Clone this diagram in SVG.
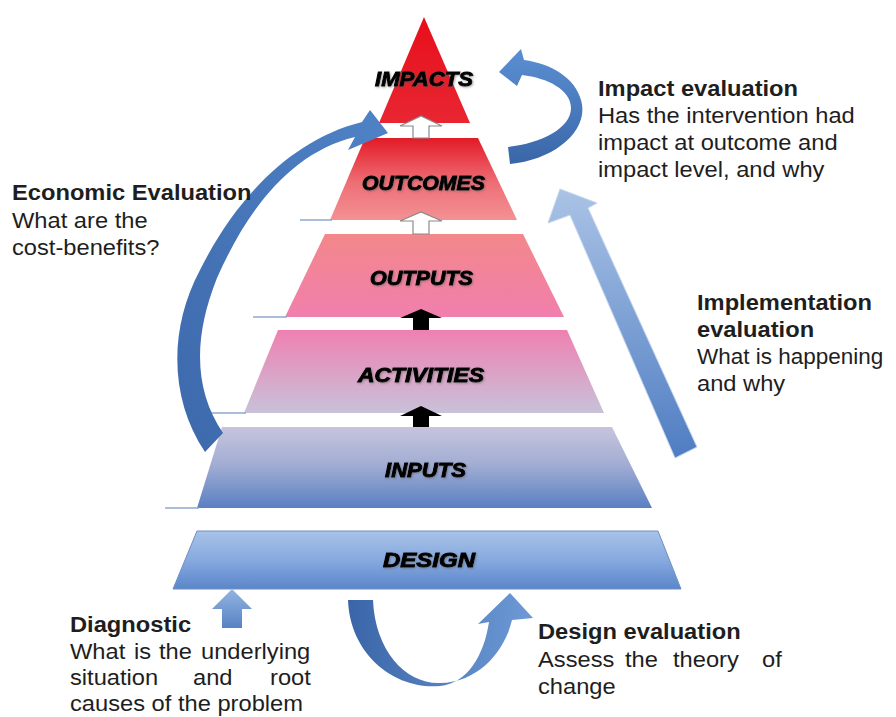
<svg xmlns="http://www.w3.org/2000/svg" width="896" height="717" viewBox="0 0 896 717">
<defs>
<style>
.lbl{font-family:"Liberation Sans",Arial,sans-serif;font-weight:bold;font-style:italic;font-size:19.5px;fill:#000;stroke:#000;stroke-width:0.9;filter:url(#sh)}
.t{font-family:"Liberation Sans",Arial,sans-serif;font-size:22.5px;fill:#1e1e1e}
.tb{font-family:"Liberation Sans",Arial,sans-serif;font-size:22.5px;font-weight:bold;fill:#1e1e1e}
.tick{stroke:#8ea7cf;stroke-width:1.5}
.wa{fill:#fff;stroke:#8a8a8a;stroke-width:1.2}
.ba{fill:#000}
</style>
<filter id="sh" x="-10%" y="-30%" width="120%" height="160%"><feDropShadow dx="1" dy="1" stdDeviation="1" flood-color="#555" flood-opacity="0.5"/></filter>
<linearGradient id="gImp" x1="0" y1="0" x2="0" y2="1"><stop offset="0" stop-color="#e70f1b"/><stop offset="1" stop-color="#e82632"/></linearGradient>
<linearGradient id="gOutc" x1="0" y1="0" x2="0" y2="1"><stop offset="0" stop-color="#e31a27"/><stop offset="0.55" stop-color="#ee6f76"/><stop offset="1" stop-color="#f39194"/></linearGradient>
<linearGradient id="gOutp" x1="0" y1="0" x2="0" y2="1"><stop offset="0" stop-color="#f3878a"/><stop offset="1" stop-color="#f17fae"/></linearGradient>
<linearGradient id="gAct" x1="0" y1="0" x2="0" y2="1"><stop offset="0" stop-color="#ef80b0"/><stop offset="1" stop-color="#c8c2da"/></linearGradient>
<linearGradient id="gInp" x1="0" y1="0" x2="0" y2="1"><stop offset="0" stop-color="#c7c4dc"/><stop offset="0.45" stop-color="#a3aed4"/><stop offset="1" stop-color="#5a80c2"/></linearGradient>
<linearGradient id="gDes" x1="0" y1="0" x2="0" y2="1"><stop offset="0" stop-color="#a9c3e9"/><stop offset="0.5" stop-color="#86a9df"/><stop offset="1" stop-color="#5b86ca"/></linearGradient>
<linearGradient id="gEco" x1="0" y1="1" x2="1" y2="0"><stop offset="0" stop-color="#3d69ab"/><stop offset="1" stop-color="#4f82c6"/></linearGradient>
<linearGradient id="gImpA" x1="0" y1="0" x2="0" y2="1"><stop offset="0" stop-color="#5b8fd2"/><stop offset="1" stop-color="#3a66a8"/></linearGradient>
<linearGradient id="gImpl" x1="0" y1="0" x2="0" y2="1"><stop offset="0" stop-color="#aac3e6"/><stop offset="1" stop-color="#4f7dc2"/></linearGradient>
<linearGradient id="gU" x1="0" y1="0" x2="1" y2="0"><stop offset="0" stop-color="#3a65a8"/><stop offset="1" stop-color="#6e9bd7"/></linearGradient>
<linearGradient id="gDiag" x1="0" y1="0" x2="0" y2="1"><stop offset="0" stop-color="#95b5e1"/><stop offset="1" stop-color="#5682c4"/></linearGradient>
</defs>
<rect width="896" height="717" fill="#fff"/>

<g id="layer-impacts">
<polygon points="424,17 470,123 379,123" fill="url(#gImp)"/>
<text class="lbl" x="375" y="86" textLength="98" lengthAdjust="spacingAndGlyphs">IMPACTS</text>
</g>
<g id="layer-outcomes">
<polygon points="365,138 478,138 517,220 330,220" fill="url(#gOutc)"/>
<line class="tick" x1="300" y1="220" x2="332" y2="220"/>
<text class="lbl" x="362" y="190" textLength="123" lengthAdjust="spacingAndGlyphs">OUTCOMES</text>
</g>
<g id="layer-outputs">
<polygon points="325,234 523,234 564,317 285,317" fill="url(#gOutp)"/>
<line class="tick" x1="253" y1="317" x2="287" y2="317"/>
<text class="lbl" x="370" y="285" textLength="103" lengthAdjust="spacingAndGlyphs">OUTPUTS</text>
</g>
<g id="layer-activities">
<polygon points="278,330 567,330 604,413 244,413" fill="url(#gAct)"/>
<line class="tick" x1="210" y1="413" x2="246" y2="413"/>
<text class="lbl" x="358" y="382" textLength="126" lengthAdjust="spacingAndGlyphs">ACTIVITIES</text>
</g>
<g id="layer-inputs">
<polygon points="222,427 612,427 652,508 197,508" fill="url(#gInp)"/>
<line class="tick" x1="165" y1="508" x2="199" y2="508"/>
<text class="lbl" x="385" y="477" textLength="81" lengthAdjust="spacingAndGlyphs">INPUTS</text>
</g>
<g id="layer-design">
<polygon points="197,531 658,531 681,589 173,589" fill="url(#gDes)" stroke="#6e90c6" stroke-width="1"/>
<text class="lbl" x="383" y="567" textLength="92" lengthAdjust="spacingAndGlyphs">DESIGN</text>
</g>

<g id="connectors">
<polygon class="wa" points="413,138 413,126 400,126 421,116 442,126 429,126 429,138"/>
<polygon class="wa" points="413,234 413,221 400,221 421,212 442,221 429,221 429,234"/>
<polygon class="ba" points="413,330 413,318 400,318 421,309 442,318 429,318 429,330"/>
<polygon class="ba" points="413,427 413,416 400,416 421,406 442,416 429,416 429,427"/>
<path id="arrow-economic" d="M 205 452 C 170 400 168 330 200 270 C 235 200 290 140 362 122 L 370 110 L 388 133 L 348 150 L 355 137 C 292 152 248 208 217 278 C 193 338 194 390 223 433 Z" fill="url(#gEco)"/>
<path id="arrow-impact" d="M 510 164 C 555 160 590 130 581 100 C 575 78 552 64 524 60 L 521 49 L 499 72 L 517 86 L 522 75 C 548 78 571 90 571 108 C 571 128 542 143 508 147 Z" fill="url(#gImpA)"/>
<path id="arrow-implementation" d="M 675 458 L 570 215 L 548 223 L 560 189 L 597 203 L 588 208 L 697 447 Z" fill="url(#gImpl)" stroke="#c5d5ec" stroke-width="1"/>
<path id="arrow-design" d="M 348 600 C 350 655 395 690 440 686 C 468 683 484 655 489 622 L 478 624 L 510 593 L 533 618 L 512 620 C 505 650 480 682 440 683 C 405 684 375 650 373 600 Z" fill="url(#gU)"/>
<path id="arrow-diagnostic" d="M 222 628 L 222 609 L 212 609 L 232 589 L 252 609 L 242 609 L 242 628 Z" fill="url(#gDiag)"/>
</g>

<g id="text-impact-evaluation">
<text class="tb" transform="matrix(1.053 0 0 1 598 96)">Impact evaluation</text>
<text class="t" transform="matrix(1.053 0 0 1 598 123)">Has the intervention had</text>
<text class="t" transform="matrix(1.053 0 0 1 598 150)">impact at outcome and</text>
<text class="t" transform="matrix(1.053 0 0 1 598 177)">impact level, and why</text>
</g>
<g id="text-economic-evaluation">
<text class="tb" transform="matrix(1.053 0 0 1 12 200)">Economic Evaluation</text>
<text class="t" transform="matrix(1.053 0 0 1 12 228)">What are the</text>
<text class="t" transform="matrix(1.053 0 0 1 12 255)">cost-benefits?</text>
</g>
<g id="text-implementation-evaluation">
<text class="tb" transform="matrix(1.053 0 0 1 697 310)">Implementation</text>
<text class="tb" transform="matrix(1.053 0 0 1 697 337)">evaluation</text>
<text class="t" transform="matrix(1.0 0 0 1 697 364)">What is happening</text>
<text class="t" transform="matrix(1.053 0 0 1 697 391)">and why</text>
</g>
<g id="text-diagnostic">
<text class="tb" transform="matrix(1.053 0 0 1 70 632)">Diagnostic</text>
<text class="t" transform="matrix(1.053 0 0 1 70 659)">What</text>
<text class="t" transform="matrix(1.053 0 0 1 134 659)">is</text>
<text class="t" transform="matrix(1.053 0 0 1 159 659)">the</text>
<text class="t" transform="matrix(1.053 0 0 1 201 659)">underlying</text>
<text class="t" transform="matrix(1.053 0 0 1 70 685)">situation</text>
<text class="t" transform="matrix(1.053 0 0 1 193 685)">and</text>
<text class="t" transform="matrix(1.053 0 0 1 270 685)">root</text>
<text class="t" transform="matrix(1.053 0 0 1 70 711)">causes of the problem</text>
</g>
<g id="text-design-evaluation">
<text class="tb" transform="matrix(1.053 0 0 1 538 639)">Design evaluation</text>
<text class="t" transform="matrix(1.053 0 0 1 538 667)">Assess</text>
<text class="t" transform="matrix(1.053 0 0 1 625 667)">the</text>
<text class="t" transform="matrix(1.053 0 0 1 673 667)">theory</text>
<text class="t" transform="matrix(1.053 0 0 1 762 667)">of</text>
<text class="t" transform="matrix(1.053 0 0 1 538 694)">change</text>
</g>
</svg>
